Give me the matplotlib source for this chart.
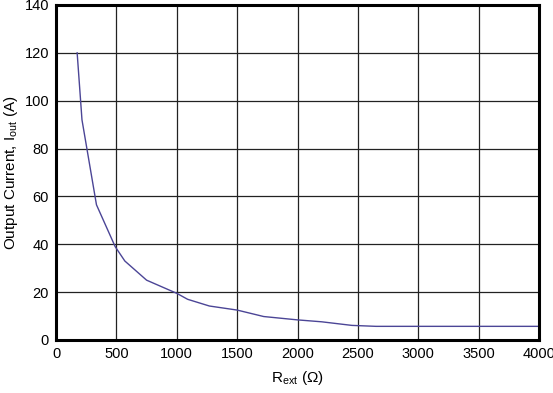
import matplotlib
matplotlib.use("Agg")
import matplotlib.pyplot as plt

# Curva
r_ext = [175, 215, 335, 490, 570, 750, 1000, 1090, 1270, 1500, 1720, 2000, 2200, 2450, 2650, 4000]
i_out = [120, 92, 56.5, 39, 33, 25, 19.5, 17, 14.2, 12.5, 9.8, 8.4, 7.6, 6.1, 5.7, 5.7]
x_ticks = [0, 500, 1000, 1500, 2000, 2500, 3000, 3500, 4000]
y_ticks = [0, 20, 40, 60, 80, 100, 120, 140]

plt.rcParams['font.family'] = ['Liberation Sans', 'DejaVu Sans']
plt.rcParams['mathtext.fontset'] = 'custom'
plt.rcParams['mathtext.rm'] = 'Liberation Sans'
plt.rcParams['mathtext.it'] = 'Liberation Sans'

fig = plt.figure(figsize=(5.53, 3.93), dpi=100)
ax = fig.add_axes([0.1013, 0.1349, 0.8734, 0.8524])

ax.plot(r_ext, i_out, color='#4b4596', linewidth=1.0)

ax.set_xlim(0, 4000)
ax.set_ylim(0, 140)
ax.set_xticks(x_ticks)
ax.set_yticks(y_ticks)
ax.tick_params(length=0, labelsize=10.5, pad=5)
ax.grid(True, color='#222222', linewidth=0.9)
for s in ax.spines.values():
    s.set_linewidth(2.2)
    s.set_color('black')

ax.set_xlabel(r"R$_{\mathrm{ext}}$ ($\Omega$)", fontsize=11, labelpad=6)
ax.set_ylabel(r"Output Current, I$_{\mathrm{out}}$ (A)", fontsize=11, labelpad=3)

fig.savefig("out.png", dpi=100)
